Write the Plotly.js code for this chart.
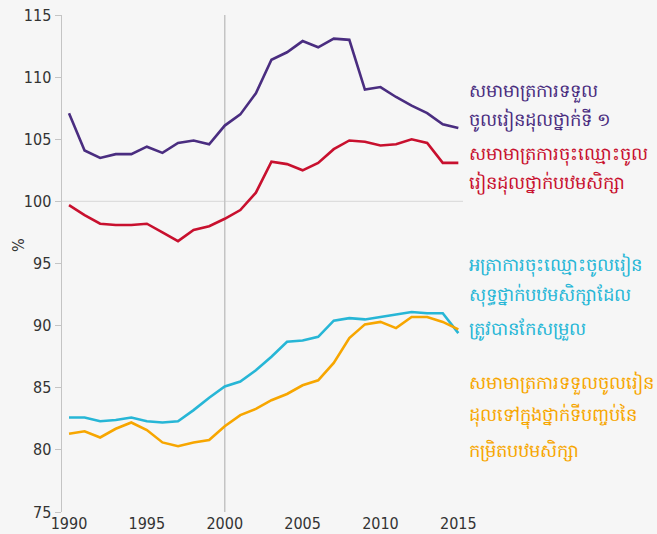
<!DOCTYPE html>
<html>
<head>
<meta charset="utf-8">
<script src="https://cdn.plot.ly/plotly-3.0.1.min.js"></script>
<style>
  html, body { margin: 0; padding: 0; background: #f6f6f6; }
  #chart { width: 657px; height: 534px; }
</style>
</head>
<body>
<div id="chart"></div>
<script>
  // years 1990..2015
  const years = [1990, 1991, 1992, 1993, 1994, 1995, 1996, 1997, 1998, 1999, 2000, 2001, 2002,
                 2003, 2004, 2005, 2006, 2007, 2008, 2009, 2010, 2011, 2012, 2013, 2014, 2015];

  // gross intake ratio, grade 1
  const intakeG1 = [107.1, 104.1, 103.5, 103.8, 103.8, 104.4, 103.9, 104.7, 104.9, 104.6, 106.1, 107.0, 108.7,
                    111.4, 112.0, 112.9, 112.4, 113.1, 113.0, 109.0, 109.2, 108.4, 107.7, 107.1, 106.2, 105.9];
  // gross enrolment ratio, primary
  const gerPrimary = [99.7, 98.9, 98.2, 98.1, 98.1, 98.2, 97.5, 96.8, 97.7, 98.0, 98.6, 99.3, 100.7,
                      103.2, 103.0, 102.5, 103.1, 104.2, 104.9, 104.8, 104.5, 104.6, 105.0, 104.7, 103.1, 103.1];
  // adjusted net enrolment rate, primary
  const netAdjusted = [82.6, 82.6, 82.3, 82.4, 82.6, 82.3, 82.2, 82.3, 83.2, 84.2, 85.1, 85.5, 86.4,
                       87.5, 88.7, 88.8, 89.1, 90.4, 90.6, 90.5, 90.7, 90.9, 91.1, 91.0, 91.0, 89.4];
  // gross intake ratio, last grade of primary
  const intakeLast = [81.3, 81.5, 81.0, 81.7, 82.2, 81.6, 80.6, 80.3, 80.6, 80.8, 81.9, 82.8, 83.3,
                      84.0, 84.5, 85.2, 85.6, 87.0, 89.0, 90.1, 90.3, 89.8, 90.7, 90.7, 90.3, 89.7];

  // label lines, one list per series
  const labels = [
    ['សមាមាត្រការទទួល', 'ចូលរៀនដុលថ្នាក់ទី ១'],
    ['សមាមាត្រការចុះឈ្មោះចូល', 'រៀនដុលថ្នាក់បឋមសិក្សា'],
    ['អត្រាការចុះឈ្មោះចូលរៀន', 'សុទ្ធថ្នាក់បឋមសិក្សាដែល', 'ត្រូវបានកែសម្រួល'],
    ['សមាមាត្រការទទួលចូលរៀន', 'ដុលទៅក្នុងថ្នាក់ទីបញ្ចប់នៃ', 'កម្រិតបឋមសិក្សា']
  ];
  // paper y of each label line
  const labelPos = [[0.849, 0.789], [0.722, 0.662], [0.497, 0.437, 0.370], [0.260, 0.195, 0.125]];
  const colors = ['#4a2d80', '#c8102e', '#27b6d6', '#f7a600'];

  const series = [intakeG1, gerPrimary, netAdjusted, intakeLast];

  const traces = series.map((ys, i) => ({
    x: years, y: ys,
    type: 'scatter', mode: 'lines',
    line: { color: colors[i], width: 2.6 },
    hoverinfo: 'skip'
  }));

  const tickFont = { size: 16, color: '#333', family: 'DejaVu Sans Condensed, Liberation Sans Narrow, Roboto, sans-serif' };

  const annotations = [];
  labels.forEach((lines, i) => {
    lines.forEach((t, j) => {
      annotations.push({
        xref: 'paper', yref: 'paper',
        x: 1.01, y: labelPos[i][j],
        xanchor: 'left', yanchor: 'middle', align: 'left',
        text: t, showarrow: false,
        font: { color: colors[i], size: 18, family: 'Noto Sans, DejaVu Sans, sans-serif' }
      });
    });
  });
  // y axis unit
  annotations.push({
    xref: 'paper', yref: 'paper', x: -0.11, y: 0.537,
    text: '%', textangle: -90, showarrow: false,
    xanchor: 'center', yanchor: 'middle', font: tickFont
  });

  const layout = {
    width: 657, height: 534,
    paper_bgcolor: '#f6f6f6',
    plot_bgcolor: '#f6f6f6',
    margin: { t: 15, r: 194, b: 22, l: 62 },
    showlegend: false,
    font: tickFont,
    xaxis: {
      range: [1989.55, 2015.3],
      tickvals: [1990, 1995, 2000, 2005, 2010, 2015],
      showgrid: false, zeroline: false, showline: false,
      ticks: '', ticklen: 0,
      tickfont: tickFont
    },
    yaxis: {
      range: [75, 115],
      dtick: 5,
      showgrid: false, zeroline: false,
      showline: true, linecolor: '#c4c4c4', linewidth: 1.5,
      ticks: 'outside', ticklen: 6, tickcolor: '#c4c4c4',
      tickfont: tickFont
    },
    shapes: [
      { type: 'line', xref: 'paper', yref: 'y', x0: 0, x1: 1, y0: 100, y1: 100,
        line: { color: '#dddddd', width: 1.2 }, layer: 'below' },
      { type: 'line', xref: 'x', yref: 'paper', x0: 2000, x1: 2000, y0: 0, y1: 1,
        line: { color: '#c4c4c4', width: 1.5 }, layer: 'below' }
    ],
    annotations: annotations
  };

  Plotly.newPlot('chart', traces, layout, { displayModeBar: false, staticPlot: true });
</script>
</body>
</html>
